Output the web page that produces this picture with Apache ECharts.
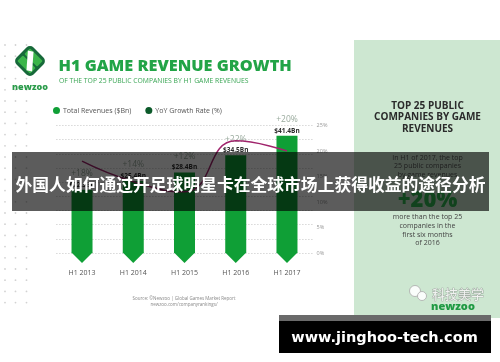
<!DOCTYPE html>
<html><head><meta charset="utf-8">
<script src="https://cdn.jsdelivr.net/npm/echarts@6/dist/echarts.min.js"></script>
<style>html,body{margin:0;padding:0;background:#fff;overflow:hidden}#c{width:500px;height:362px}</style>
</head><body><div id="c"></div>
<script>
// ---- data ----
const categories = ['H1 2013', 'H1 2014', 'H1 2015', 'H1 2016', 'H1 2017'];
const revenues = [22.3, 25.4, 28.4, 34.5, 41.4];      // Total Revenues ($Bn)
const growth = [18, 14, 12, 22, 20];                   // YoY Growth Rate (%)
const growthAxis = { min: 0, max: 25, step: 5 };        // right axis ticks 0%..25%
const revenueAxis = { min: 0, max: 45, step: 5 };       // hidden left axis (grid lines)
const seriesNames = ['Total Revenues ($Bn)', 'YoY Growth Rate (%)'];
const titleText = 'H1 GAME REVENUE GROWTH';
const subtitleText = 'OF THE TOP 25 PUBLIC COMPANIES BY H1 GAME REVENUES';
const panelHeading = ['TOP 25 PUBLIC', 'COMPANIES BY GAME', 'REVENUES'];
const panelIntro = ['In H1 of 2017, the top', '25 public companies', 'by game revenues'];
const panelBig = '+20%';
const panelOutro = ['more than the top 25', 'companies in the', 'first six months', 'of 2016'];
const sourceLines = ['Source: \u00A9Newzoo | Global Games Market Report', 'newzoo.com/companyrankings/'];
const bannerText = '外国人如何通过开足球明星卡在全球市场上获得收益的途径分析';
const wechatText = '科技美学';
const siteText = 'www.jinghoo-tech.com';

// ---- styles ----
const FONT = "'Open Sans', Lato, sans-serif";
const GREEN = '#0f9f36';
const DARKGREEN = '#0c5a2a';
const LINE = '#a0246c';

const chart = echarts.init(document.getElementById('c'), null, { renderer: 'canvas' });

const g = [];
// left dot grid
const dotCols = [5, 15.5, 26.5];
for (let y = 45; y < 306; y += 11.2) {
  dotCols.forEach(x => g.push({ type: 'circle', z: -5, silent: true, shape: { cx: x, cy: y, r: 0.9 }, style: { fill: '#d2d2d2' } }));
}
// right panel
g.push({ type: 'rect', z: -5, shape: { x: 354, y: 40, width: 146, height: 278 }, style: { fill: '#cde7d1' } });
// logo
g.push({
  type: 'group', x: 30, y: 61, rotation: Math.PI / 4, z: 5,
  children: [
    { type: 'rect', shape: { x: -12, y: -12, width: 24, height: 24, r: 5 }, style: { fill: '#17693a' } },
    { type: 'rect', shape: { x: -9, y: -9, width: 8, height: 18, r: 1 }, style: { fill: '#3bb54a' } },
    { type: 'rect', shape: { x: 1, y: -9, width: 8, height: 18, r: 1 }, style: { fill: '#3bb54a' } },
    { type: 'polygon', shape: { points: [[-9, 4], [-6, 9], [9, -4], [6, -9]] }, style: { fill: '#ffffff' } }
  ]
});
g.push({ type: 'text', z: 5, style: { text: 'newzoo', x: 30, y: 87, align: 'center', verticalAlign: 'middle', fontFamily: FONT, fontSize: 9, fontWeight: 800, fill: '#2a9b4a' } });
// title
g.push({ type: 'text', z: 5, style: { text: titleText, x: 58.5, y: 66.5, verticalAlign: 'middle', fontFamily: FONT, fontSize: 16.3, fontWeight: 800, fill: '#22a447' } });
g.push({ type: 'text', z: 5, style: { text: subtitleText, x: 59, y: 80.7, verticalAlign: 'middle', fontFamily: FONT, fontSize: 6.8, fill: '#3aa655' } });
// panel text
panelHeading.forEach((t, i) => g.push({ type: 'text', z: 5, style: { text: t, x: 427.5, y: 106 + i * 11.5, align: 'center', verticalAlign: 'middle', fontFamily: FONT, fontSize: 10, fontWeight: 700, fill: '#2b2b2b' } }));
panelIntro.forEach((t, i) => g.push({ type: 'text', z: 5, style: { text: t, x: 427.5, y: 157.7 + i * 8.4, align: 'center', verticalAlign: 'middle', fontFamily: FONT, fontSize: 7, fill: '#555' } }));
g.push({ type: 'text', z: 5, style: { text: panelBig, x: 427.5, y: 200.5, align: 'center', verticalAlign: 'middle', fontFamily: FONT, fontSize: 22, fontWeight: 800, fill: '#2fb850' } });
panelOutro.forEach((t, i) => g.push({ type: 'text', z: 5, style: { text: t, x: 427.5, y: 217.3 + i * 8.6, align: 'center', verticalAlign: 'middle', fontFamily: FONT, fontSize: 7, fill: '#444' } }));
// source
sourceLines.forEach((t, i) => g.push({ type: 'text', z: 5, style: { text: t, x: 184, y: 299 + i * 5.5, align: 'center', verticalAlign: 'middle', fontFamily: FONT, fontSize: 4.5, fill: '#888' } }));
// wechat watermark
g.push({ type: 'circle', z: 6, shape: { cx: 415, cy: 291, r: 5.5 }, style: { fill: 'rgba(255,255,255,0.9)', stroke: '#aaa', lineWidth: 0.8 } });
g.push({ type: 'circle', z: 6, shape: { cx: 422, cy: 296, r: 4.5 }, style: { fill: 'rgba(255,255,255,0.9)', stroke: '#aaa', lineWidth: 0.8 } });
g.push({ type: 'text', z: 6, style: { text: wechatText, x: 432, y: 294, verticalAlign: 'middle', fontFamily: "'Noto Sans CJK SC'", fontSize: 13, fill: 'rgba(255,255,255,0.85)', stroke: 'rgba(130,130,130,0.7)', lineWidth: 0.8 } });
g.push({ type: 'text', z: 6, style: { text: 'newzoo', x: 453, y: 307, align: 'center', verticalAlign: 'middle', fontFamily: FONT, fontSize: 11, fontWeight: 800, fill: '#1f9a43' } });
// banner overlay
g.push({ type: 'rect', z: 100, shape: { x: 12, y: 152, width: 477, height: 59 }, style: { fill: 'rgba(0,0,0,0.64)' } });
g.push({ type: 'text', z: 101, style: { text: bannerText, x: 250.5, y: 185, align: 'center', verticalAlign: 'middle', fontFamily: "'Noto Sans CJK SC'", fontSize: 16.8, fontWeight: 700, fill: '#ffffff' } });
// site watermark
g.push({ type: 'rect', z: 100, shape: { x: 279, y: 315, width: 212, height: 6 }, style: { fill: '#6a6a6a' } });
g.push({ type: 'rect', z: 100, shape: { x: 279, y: 321, width: 212, height: 32 }, style: { fill: '#000' } });
g.push({ type: 'text', z: 101, style: { text: siteText, x: 384.5, y: 338, align: 'center', verticalAlign: 'middle', fontFamily: "'DejaVu Sans'", fontSize: 14.5, fontWeight: 700, fill: '#fff' } });

const option = {
  animation: false,
  backgroundColor: '#ffffff',
  grid: { left: 56.4, right: 187.4, top: 125.5, bottom: 109 },
  legend: {
    left: 53, top: 107, padding: 0, itemWidth: 7, itemHeight: 7, itemGap: 14, icon: 'circle',
    textStyle: { fontFamily: FONT, fontSize: 7, color: '#555', padding: [0, 0, 0, -2] },
    data: [
      { name: seriesNames[0], itemStyle: { color: GREEN } },
      { name: seriesNames[1], itemStyle: { color: DARKGREEN }, lineStyle: { width: 0, opacity: 0 } }
    ]
  },
  xAxis: {
    type: 'category', data: categories,
    axisLine: { show: false }, axisTick: { show: false },
    axisLabel: { margin: 16, fontFamily: FONT, fontSize: 7, color: '#555' }
  },
  yAxis: [
    {
      type: 'value', min: revenueAxis.min, max: revenueAxis.max, interval: revenueAxis.step,
      axisLabel: { show: false }, axisLine: { show: false }, axisTick: { show: false },
      splitLine: { show: true, lineStyle: { type: [1, 2], color: '#c4c4c4', width: 1 } }
    },
    {
      type: 'value', position: 'right', min: growthAxis.min, max: growthAxis.max, interval: growthAxis.step,
      axisLabel: { formatter: '{value}%', margin: 4, fontFamily: FONT, fontSize: 5.5, color: '#999' },
      axisLine: { show: false }, axisTick: { show: false }, splitLine: { show: false }
    }
  ],
  series: [
    {
      name: seriesNames[0], type: 'bar', data: revenues, barWidth: 21, itemStyle: { color: GREEN },
      label: {
        show: true, position: 'top', distance: 0,
        formatter: p => '{g|+' + growth[p.dataIndex] + '%}\n{r|$' + revenues[p.dataIndex].toFixed(1) + 'Bn}',
        rich: {
          g: { fontFamily: FONT, fontSize: 8.5, color: '#9aab9e', lineHeight: 12, align: 'center' },
          r: { fontFamily: FONT, fontSize: 6.5, fontWeight: 'bold', color: '#2d2d2d', lineHeight: 10, align: 'center' }
        }
      }
    },
    {
      type: 'custom', silent: true, data: revenues.map((v, i) => [i, v]), encode: { x: 0, y: 1 },
      renderItem: (params, api) => {
        const base = api.coord([api.value(0), 0]);
        const w = 21;
        return { type: 'polygon', shape: { points: [[base[0] - w / 2, base[1] - 0.5], [base[0] + w / 2, base[1] - 0.5], [base[0], base[1] + 10]] }, style: { fill: GREEN } };
      }
    },
    {
      name: seriesNames[1], type: 'line', yAxisIndex: 1, data: growth, smooth: true, showSymbol: false,
      lineStyle: { color: LINE, width: 1.5 }, itemStyle: { color: DARKGREEN }
    }
  ],
  graphic: { elements: g }
};
chart.setOption(option);
</script>
</body></html>
